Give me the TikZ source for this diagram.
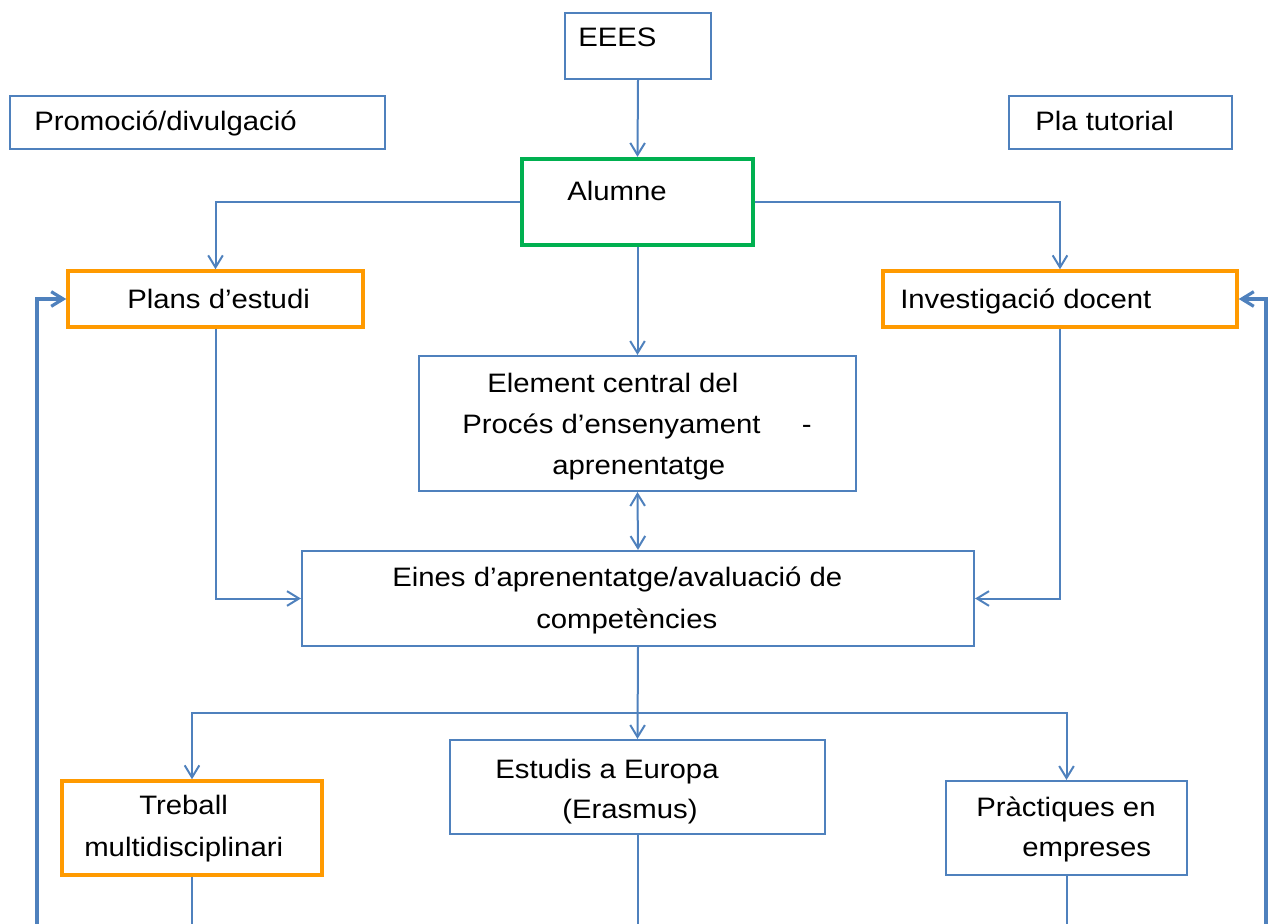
\documentclass[tikz,border=0pt]{standalone}
\usepackage{fontspec}
\setmainfont[FakeStretch=1.1]{Liberation Sans}
\usetikzlibrary{arrows.meta,fit}

\definecolor{lineblue}{HTML}{4F81BD}
\definecolor{boxorange}{HTML}{FF9A00}
\definecolor{boxgreen}{HTML}{00B050}

\tikzset{
  bluebox/.style={draw=lineblue,line width=1.6pt,inner sep=0pt},
  orangebox/.style={draw=boxorange,line width=2.6pt,inner sep=0pt},
  greenbox/.style={draw=boxgreen,line width=3.2pt,inner sep=0pt},
  txt/.style={anchor=base west,inner sep=0pt,font=\fontsize{20}{24}\selectfont},
  link/.style={draw=lineblue,line width=1.5pt},
  arr/.style={link,-{Straight Barb[length=9pt,width=11pt]}},
  dblarr/.style={link,{Straight Barb[length=9pt,width=11pt]}-{Straight Barb[length=9pt,width=11pt]}},
  looparr/.style={arr,line width=2.4pt}
}

\begin{document}
\begin{tikzpicture}[x=0.75pt,y=-0.75pt]
  \useasboundingbox (0,0) rectangle (1268,924);

  % boxes
  \node[bluebox, fit={(565,13) (711,79)}] (eees) {};
  \node[bluebox, fit={(10,96) (385,149)}] (promo) {};
  \node[bluebox, fit={(1009,96) (1232,149)}] (tutor) {};
  \node[greenbox, fit={(522,159) (753,245)}] (alumne) {};
  \node[orangebox, fit={(68,271) (363,327)}] (plans) {};
  \node[orangebox, fit={(883,271) (1237,327)}] (invest) {};
  \node[bluebox, fit={(419,356) (856,491)}] (central) {};
  \node[bluebox, fit={(302,551) (974,646)}] (eines) {};
  \node[bluebox, fit={(450,740) (825,834)}] (europa) {};
  \node[orangebox, fit={(62,781) (322,875)}] (treball) {};
  \node[bluebox, fit={(946,781) (1187,875)}] (practiques) {};

  % texts
  \node[txt] (eeesT) at (578,47) {EEES};
  \node[txt] (promoT) at (34,131) {Promoció/divulgació};
  \node[txt] (tutorT) at (1035,131) {Pla tutorial};
  \node[txt] (alumneT) at (567,200) {Alumne};
  \node[txt] (plansT) at (127,308) {Plans d’estudi};
  \node[txt] (investT) at (900,308) {Investigació docent};
  \node[txt] (centralA) at (487,392) {Element central del};
  \node[txt] (centralB) at (462,433) {\makebox[262pt][l]{Procés d’ensenyament\hfill-}};
  \node[txt] (centralC) at (552,474) {aprenentatge};
  \node[txt] (einesA) at (392,586) {Eines d’aprenentatge/avaluació de};
  \node[txt] (einesB) at (536,628) {competències};
  \node[txt] (europaA) at (495,778) {Estudis a Europa};
  \node[txt] (europaB) at (562,818) {(Erasmus)};
  \node[txt] (treballA) at (139,814) {Treball};
  \node[txt] (treballB) at (84,856) {multidisciplinari};
  \node[txt] (practiquesA) at (976,816) {Pràctiques en};
  \node[txt] (practiquesB) at (1022,856) {empreses};

  % free ends
  \coordinate (split) at (638,713);
  \coordinate (loopL) at (37,924);
  \coordinate (loopR) at (1266,924);

  % connectors
  \draw[arr] (eees.south) -- (alumne.north);
  \draw[arr] (alumne.west) -| (plans.north);
  \draw[arr] (alumne.east) -| (invest.north);
  \draw[arr] (alumne.south) -- (central.north);
  \draw[arr] (plans.south) |- (eines.west);
  \draw[arr] (invest.south) |- (eines.east);
  \draw[dblarr] (central.south) -- (eines.north);
  \draw[arr] (eines.south) -- (europa.north);
  \draw[arr] (split) -| (treball.north);
  \draw[arr] (split) -| (practiques.north);
  \draw[link] (treball.south) -- (treball.south |- loopL);
  \draw[link] (europa.south) -- (europa.south |- loopL);
  \draw[link] (practiques.south) -- (practiques.south |- loopL);
  \draw[looparr] (loopL) |- (plans.west);
  \draw[looparr] (loopR) |- (invest.east);
\end{tikzpicture}
\end{document}
